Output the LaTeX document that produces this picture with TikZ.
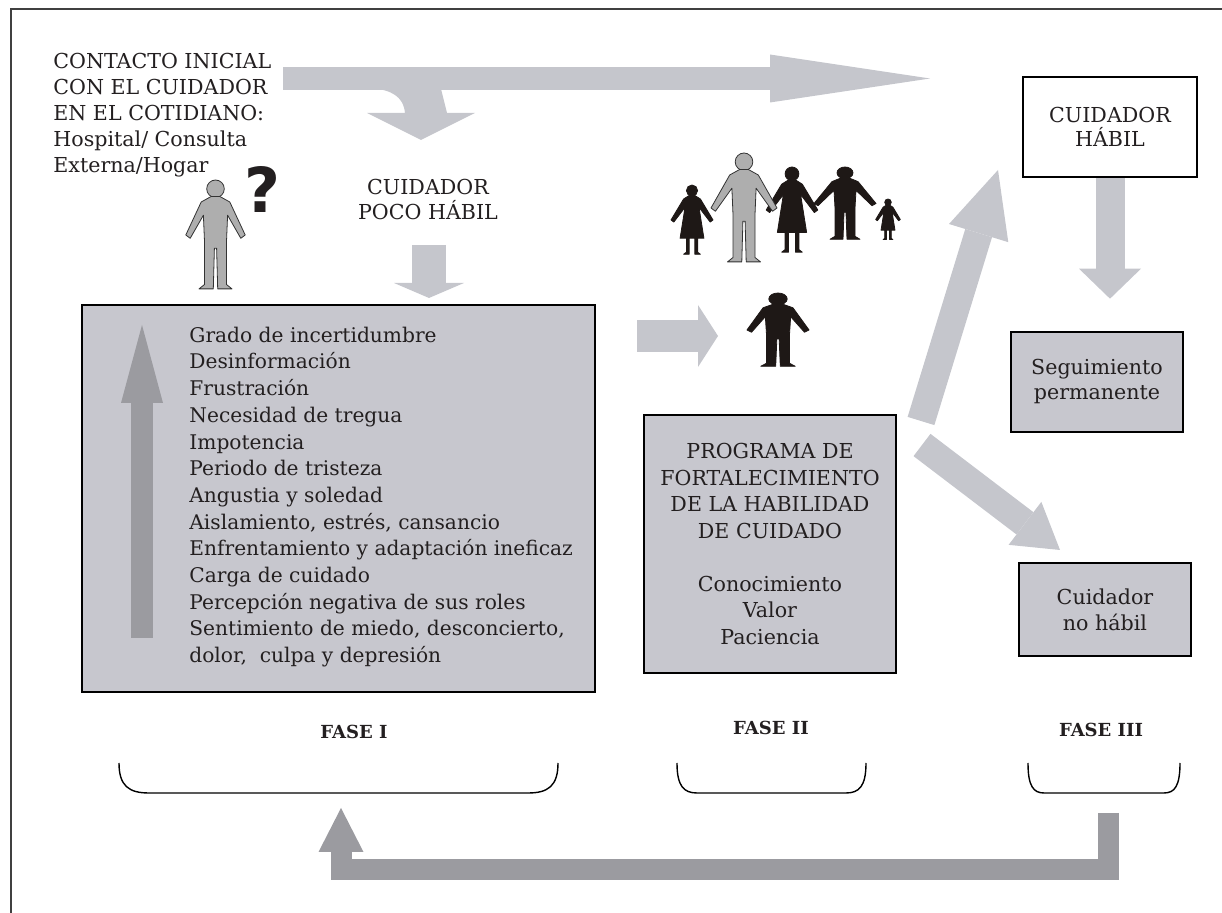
\documentclass[tikz,border=0pt]{standalone}
\usepackage{fontspec}
\setmainfont{DejaVu Serif}
\newfontfamily\signo{DejaVu Sans}
\usetikzlibrary{arrows.meta}
\definecolor{flechaclara}{HTML}{C5C6CC}
\definecolor{flechaoscura}{HTML}{9B9BA0}
\definecolor{relleno}{HTML}{C7C7CE}
\definecolor{tinta}{HTML}{231F20}
\definecolor{sombra}{HTML}{1E1816}
\definecolor{gris}{HTML}{AEAEAE}

\newcommand{\persona}[4]{%
	\begin{scope}[#1]
	    \filldraw[fill=#2, draw=#3, line width=0.4pt] (0,8) circle[radius=8];
	    \filldraw[fill=#2, draw=#3, line width=0.4pt, line join=round] (-4,15) -- (-13,20) -- (-#4,50) -- (-#4+4,53) -- (-11,32) -- (-10,56) -- (-10,95) -- (-15,99) -- (-2,99) -- (-1,62) -- (1,62) -- (2,99) -- (15,99) -- (10,95) -- (10,56) -- (11,32) -- (#4-4,53) -- (#4,50) -- (13,20) -- (4,15) -- cycle;
	\end{scope}}
\newcommand{\vestido}[4]{%
	\begin{scope}[#1]
	    \filldraw[fill=#2, draw=#3, line width=0.4pt] (0,8) circle[radius=8];
	    \filldraw[fill=#2, draw=#3, line width=0.4pt, line join=round] (-4,15) -- (-12,20) -- (-#4,50) -- (-#4+4,53) -- (-10,32) -- (-17,76) -- (-8,76) -- (-8,96) -- (-12,99) -- (-4,99) -- (-4,76) -- (4,76) -- (4,99) -- (12,99) -- (8,96) -- (8,76) -- (17,76) -- (10,32) -- (#4-4,53) -- (#4,50) -- (12,20) -- (4,15) -- cycle;
	\end{scope}}

\begin{document}
\begin{tikzpicture}[x=0.5pt, y=-0.5pt, text=tinta, font=\fontsize{10.3}{13}\selectfont,
	caja/.style={draw=black, line width=1.3pt, fill=relleno, inner sep=0pt, align=center},
	texto/.style={inner sep=0pt, align=left, anchor=west},
	fase/.style={inner sep=0pt, font=\fontsize{9}{11}\bfseries\selectfont},
	flecha/.style={draw=flechaclara, line width=#1},
	regreso/.style={draw=flechaoscura, line width=#1, line join=miter},
	llave/.style={draw=black, line width=0.7pt}]
	    \useasboundingbox (0,0) rectangle (1222,913);
	    \draw[line width=0.8pt, black!75] (1222,9) -- (11,9) -- (11,913);

	    \node[texto] (contacto) at (53,115) {CONTACTO INICIAL\\CON EL CUIDADOR\\EN EL COTIDIANO:\\Hospital/ Consulta\\Externa/Hogar};
	    \node[inner sep=0pt, align=center, font=\fontsize{10.3}{12.5}\selectfont] (poco) at (428,199.5) {CUIDADOR\\POCO HÁBIL};
	    \node[inner sep=0pt, font=\signo\fontsize{31}{31}\bfseries\selectfont] (duda) at (262,190) {?};

	    \node[caja, minimum width=256.5pt, minimum height=193.5pt] (fase1) at (338.5,498.5) {};
	    \node[texto, font=\fontsize{10.1}{13.35}\selectfont] (sintomas) at (189,497) {Grado de incertidumbre\\Desinformación\\Frustración\\Necesidad de tregua\\Impotencia\\Periodo de tristeza\\Angustia y soledad\\Aislamiento, estrés, cansancio\\Enfrentamiento y adaptación ineficaz\\Carga de cuidado\\Percepción negativa de sus roles\\Sentimiento de miedo, desconcierto,\\dolor,\ \ culpa y depresión};
	    \node[caja, minimum width=126pt, minimum height=129pt, font=\fontsize{10.3}{13.25}\selectfont] (prog) at (770,544) {PROGRAMA DE\\FORTALECIMIENTO\\DE LA HABILIDAD\\DE CUIDADO\\[13.25pt]Conocimiento\\Valor\\Paciencia};
	    \node[caja, fill=white, minimum width=87pt, minimum height=50pt, font=\fontsize{10.3}{12}\selectfont] (hab) at (1110,127) {CUIDADOR\\HÁBIL};
	    \node[caja, minimum width=86pt, minimum height=50pt, font=\fontsize{10.3}{12.5}\selectfont] (seg) at (1097,382) {Seguimiento\\permanente};
	    \node[caja, minimum width=86pt, minimum height=46.5pt] (nohab) at (1105,609.5) {Cuidador\\no hábil};

	    \node[fase] (f1) at (354,732) {FASE I};
	    \node[fase] (f2) at (771,728) {FASE II};
	    \node[fase] (f3) at (1101,730) {FASE III};
	    \foreach \a/\b/\r in {119/558/30, 677/866/20, 1028/1180/16}
	        \draw[llave] (\a,763) .. controls (\a,786) and (\a+\r/3,793) .. (\a+\r,793) -- (\b-\r,793) .. controls (\b-\r/3,793) and (\b,786) .. (\b,763);

	    \coordinate (ini) at (283,78.5);
	    \coordinate (fin) at (930,78.5);
	    \draw[flecha=11.5pt, -{Triangle[length=80pt,width=24pt,line width=0pt]}] (ini) -- (fin);
	    \fill[flechaclara] (378,89) .. controls (398,92) and (404,102) .. (405,113) -- (367,113) -- (421,140) -- (475,113) -- (447,113) -- (441,89) -- cycle;
	    \coordinate (baja0) at (429,245);
	    \coordinate (baja1) at (429,298);
	    \draw[flecha=17pt, -{Triangle[length=7.5pt,width=35pt,line width=0pt]}] (baja0) -- (baja1);
	    \coordinate (avanza0) at (637,336);
	    \coordinate (avanza1) at (718,336);
	    \draw[flecha=16pt, -{Triangle[length=10pt,width=31pt,line width=0pt]}] (avanza0) -- (avanza1);
	    \coordinate (sube0) at (921,421);
	    \coordinate (sube1) at (998,170);
	    \draw[flecha=14pt, -{Triangle[length=33pt,width=31pt,line width=0pt]}] (sube0) -- (sube1);
	    \coordinate (cae0) at (922,445);
	    \coordinate (cae1) at (1060,550);
	    \draw[flecha=14pt, -{Triangle[length=22pt,width=27pt,line width=0pt]}] (cae0) -- (cae1);
	    \draw[flecha=14.5pt, shorten >=16pt, -{Triangle[length=15pt,width=31pt,line width=0pt]}] (hab.south) -- (hab.south |- seg.north);

	    \coordinate (tension0) at (142,638);
	    \coordinate (tension1) at (142,325);
	    \draw[regreso=11pt, -{Triangle[length=39pt,width=21pt,line width=0pt]}] (tension0) -- (tension1);
	    \coordinate (vuelta0) at (1108.5,813);
	    \coordinate (vuelta1) at (341,808);
	    \draw[regreso=10.5pt, -{Triangle[length=22pt,width=22.5pt,line width=0pt]}] (vuelta0) |- (341,870) -- (vuelta1);

	    \persona{shift={(215.5,180)}, scale=1.1}{gris}{black!80}{27}
	    \vestido{shift={(692,185)}, scale=0.7}{sombra}{sombra}{30}
	    \vestido{shift={(792,167)}, scale=0.86}{sombra}{sombra}{30}
	    \persona{shift={(845,167)}, yscale=0.73, xscale=1.0}{sombra}{sombra}{31}
	    \vestido{shift={(888,199)}, scale=0.41}{sombra}{sombra}{30}
	    \persona{shift={(744,153)}, scale=1.1}{gris}{black!80}{30}
	    \persona{shift={(778,293)}, yscale=0.74, xscale=1.15}{sombra}{sombra}{27}
        \end{tikzpicture}
\end{document}
